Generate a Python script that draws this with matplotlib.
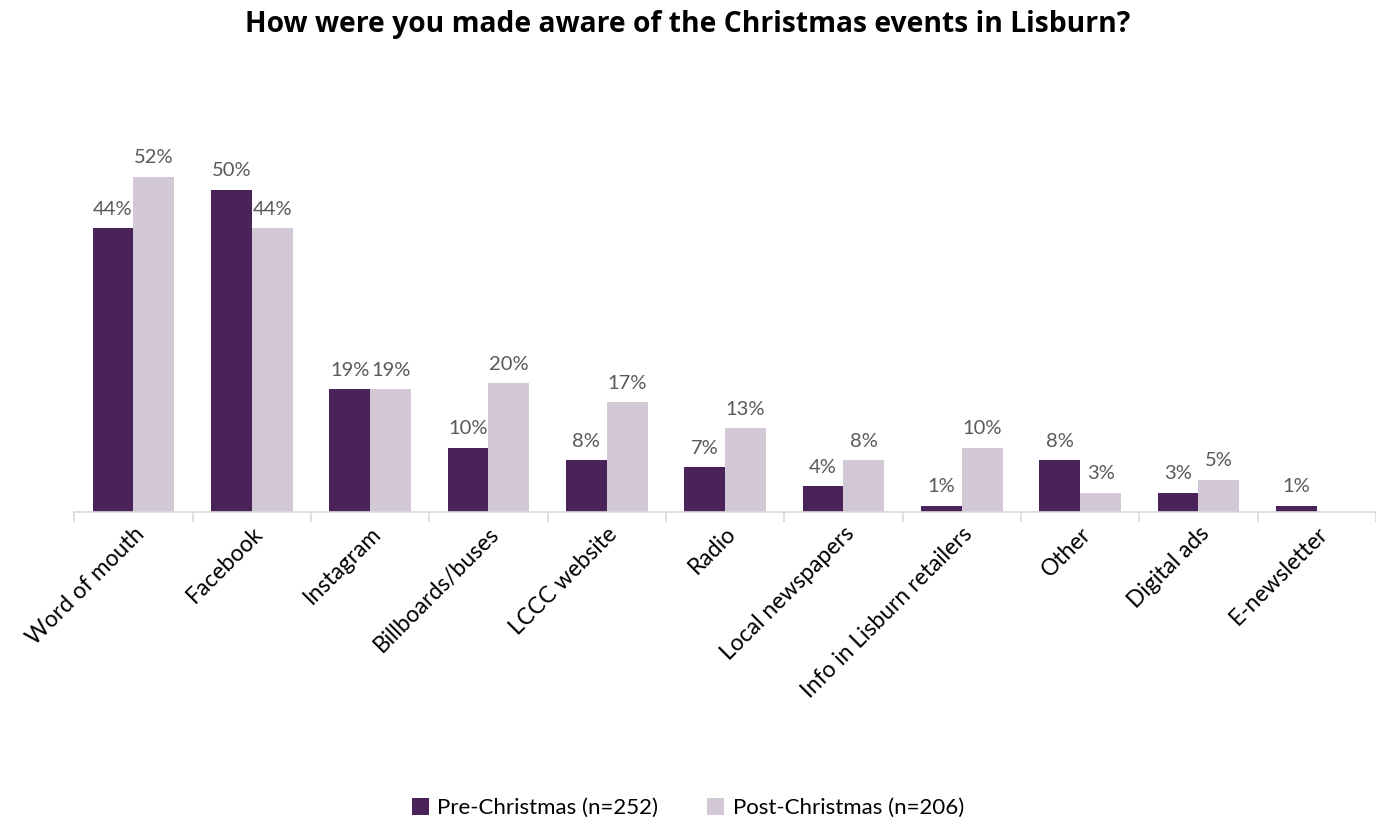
import numpy as np
import matplotlib.pyplot as plt

categories = ['Word of mouth', 'Facebook', 'Instagram', 'Billboards/buses', 'LCCC website',
              'Radio', 'Local newspapers', 'Info in Lisburn retailers', 'Other',
              'Digital ads', 'E-newsletter']
pre = [44, 50, 19, 10, 8, 7, 4, 1, 8, 3, 1]
post = [52, 44, 19, 20, 17, 13, 8, 10, 3, 5, 0]

pre_label = 'Pre-Christmas (n=252)'
post_label = 'Post-Christmas (n=206)'

plt.rcParams['font.family'] = ['Lato', 'DejaVu Sans']

fig = plt.figure(figsize=(13.76, 8.24), dpi=100)
ax = fig.add_axes([0.054, 0.3786, 0.946, 0.4697])

x = np.arange(len(categories))
w = 0.345
b1 = ax.bar(x - w / 2, pre, w, color='#4a235a', label=pre_label)
b2 = ax.bar(x + w / 2, post, w, color='#d3c8d6', label=post_label)

for bars, vals in ((b1, pre), (b2, post)):
    for r, v in zip(bars, vals):
        if v == 0:
            continue
        ax.text(r.get_x() + r.get_width() / 2, v + 1.6, f'{v}%', ha='center', va='bottom',
                fontsize=14.5, color='#595959')

ax.set_xlim(-0.5, len(categories) - 0.5)
ax.set_ylim(0, 60)
ax.set_yticks([])
for s in ('top', 'right', 'left'):
    ax.spines[s].set_visible(False)
ax.spines['bottom'].set_color('#d9d9d9')
ax.spines['bottom'].set_linewidth(1.2)

# category boundary ticks
ax.set_xticks(np.arange(len(categories) + 1) - 0.5, minor=True)
ax.tick_params(axis='x', which='minor', length=7, color='#d9d9d9', width=1.2)
ax.set_xticks(x)
ax.set_xticklabels(categories, rotation=45, ha='right', rotation_mode='anchor',
                   fontsize=16.5, color='black')
ax.tick_params(axis='x', which='major', length=0, pad=8)

fig.suptitle('How were you made aware of the Christmas events in Lisburn?',
             fontsize=20.3, fontweight='bold', family=['Open Sans', 'DejaVu Sans'], y=0.988)

fig.legend(handles=[b1, b2], loc='center', bbox_to_anchor=(0.5, 0.019), ncol=2,
           frameon=False, fontsize=16, handlelength=0.75, handleheight=0.75,
           columnspacing=2.2, handletextpad=0.4)

fig.savefig('out.png', dpi=100)
